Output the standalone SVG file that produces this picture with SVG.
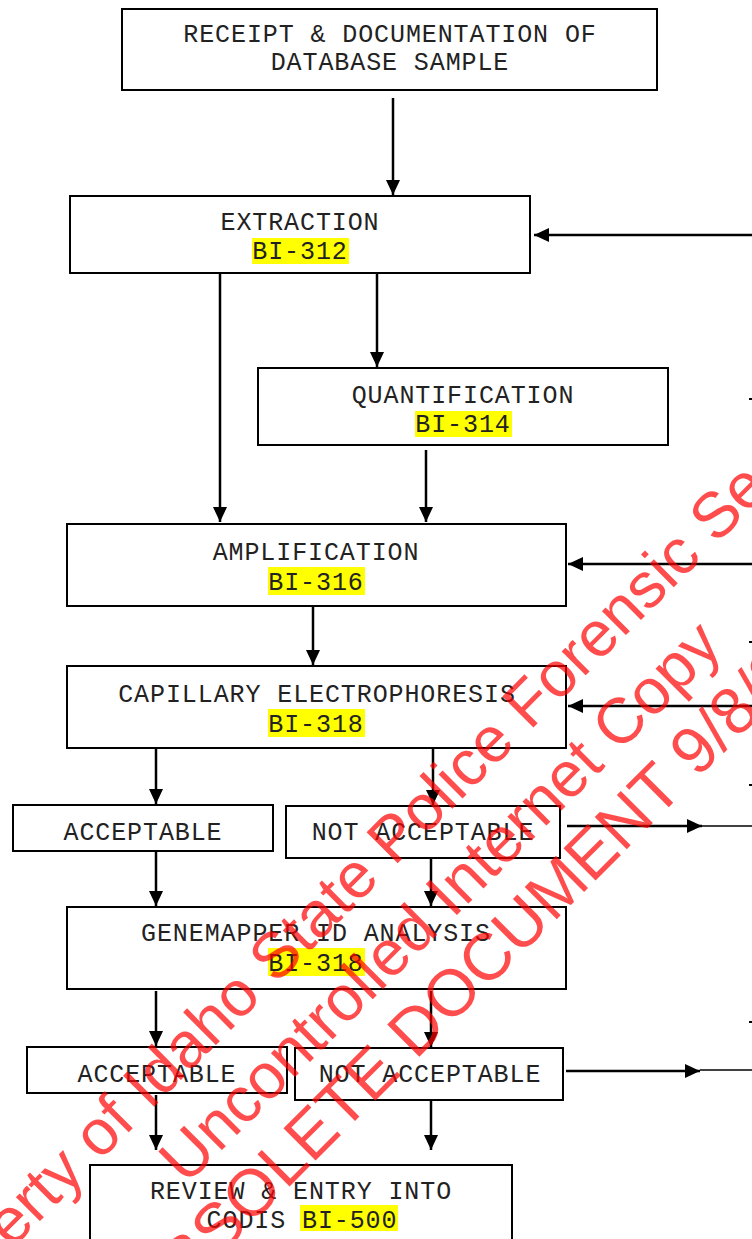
<svg xmlns="http://www.w3.org/2000/svg" width="752" height="1239" viewBox="0 0 752 1239">
<style>
.box{fill:#fff;stroke:#000;stroke-width:2}
.t{font-family:"Liberation Mono","Courier New",monospace;font-size:25px;letter-spacing:0.9px;fill:#222;text-anchor:middle}
.hl{fill:#ffff00}
.c{stroke:#000;stroke-width:2.5;fill:none}
.ca{stroke:#000;stroke-width:2.5;fill:none;marker-end:url(#ah)}
.thin{stroke:#000;stroke-width:1.5;fill:none}
.wm{font-family:"Liberation Sans",Arial,sans-serif;font-size:64px;fill:#ff0000;fill-opacity:0.7}
</style>
<defs>
<marker id="ah" markerUnits="userSpaceOnUse" markerWidth="16" markerHeight="14" refX="15" refY="7" orient="auto">
<path d="M0,0 L15,7 L0,14 z" fill="#000"/>
</marker>
</defs>
<rect width="752" height="1239" fill="#fff"/>

<g id="connectors">
<line class="ca" x1="393" y1="98" x2="393" y2="195"/>
<line class="ca" x1="220" y1="273" x2="220" y2="522"/>
<line class="ca" x1="377" y1="273" x2="377" y2="367"/>
<line class="ca" x1="426" y1="450" x2="426" y2="522"/>
<line class="ca" x1="313" y1="607" x2="313" y2="665"/>
<line class="ca" x1="156" y1="749" x2="156" y2="804"/>
<line class="ca" x1="433" y1="749" x2="433" y2="805"/>
<line class="ca" x1="156" y1="852" x2="156" y2="906"/>
<line class="ca" x1="431" y1="852" x2="431" y2="906"/>
<line class="ca" x1="156" y1="991" x2="156" y2="1046"/>
<line class="ca" x1="431" y1="991" x2="431" y2="1047"/>
<line class="ca" x1="156" y1="1095" x2="156" y2="1150"/>
<line class="ca" x1="431" y1="1096" x2="431" y2="1150"/>
<line class="ca" x1="752" y1="235" x2="534" y2="235"/>
<line class="ca" x1="752" y1="564" x2="568" y2="564"/>
<line class="ca" x1="752" y1="706" x2="568" y2="706"/>
<line class="ca" x1="567" y1="826" x2="702" y2="826"/>
<line class="thin" x1="702" y1="826" x2="752" y2="826"/>
<line class="ca" x1="566" y1="1071" x2="700" y2="1071"/>
<line class="thin" x1="700" y1="1070" x2="752" y2="1070"/>
</g>

<g id="receipt">
<rect class="box" x="122" y="9" width="535" height="81"/>
<text class="t" x="390" y="42">RECEIPT &amp; DOCUMENTATION OF</text>
<text class="t" x="390" y="70">DATABASE SAMPLE</text>
</g>

<g id="extraction">
<rect class="box" x="70" y="196" width="460" height="77"/>
<text class="t" x="300" y="230">EXTRACTION</text>
<rect class="hl" x="252" y="238" width="97" height="26"/>
<text class="t" x="300" y="259">BI-312</text>
</g>

<g id="quantification">
<rect class="box" x="258" y="368" width="410" height="77"/>
<text class="t" x="463" y="403">QUANTIFICATION</text>
<rect class="hl" x="415" y="411" width="97" height="26"/>
<text class="t" x="463" y="432">BI-314</text>
</g>

<g id="amplification">
<rect class="box" x="67" y="524" width="499" height="82"/>
<text class="t" x="316" y="560">AMPLIFICATION</text>
<rect class="hl" x="268" y="567" width="97" height="28"/>
<text class="t" x="316" y="590">BI-316</text>
</g>

<g id="capillary">
<rect class="box" x="67" y="666" width="499" height="82"/>
<text class="t" x="317" y="702">CAPILLARY ELECTROPHORESIS</text>
<rect class="hl" x="268" y="709" width="97" height="28"/>
<text class="t" x="316" y="732">BI-318</text>
</g>

<g id="acceptable1">
<rect class="box" x="13" y="805" width="260" height="46"/>
<text class="t" x="143" y="840">ACCEPTABLE</text>
</g>

<g id="notacceptable1">
<rect class="box" x="286" y="806" width="274" height="52"/>
<text class="t" x="423" y="840">NOT ACCEPTABLE</text>
</g>

<g id="genemapper">
<rect class="box" x="67" y="907" width="499" height="82"/>
<text class="t" x="316" y="941">GENEMAPPER ID ANALYSIS</text>
<rect class="hl" x="268" y="948" width="97" height="28"/>
<text class="t" x="316" y="971">BI-318</text>
</g>

<g id="acceptable2">
<rect class="box" x="27" y="1047" width="260" height="46"/>
<text class="t" x="157" y="1082">ACCEPTABLE</text>
</g>

<g id="notacceptable2">
<rect class="box" x="295" y="1048" width="268" height="52"/>
<text class="t" x="430" y="1082">NOT ACCEPTABLE</text>
</g>

<g id="review">
<rect class="box" x="90" y="1165" width="422" height="90"/>
<text class="t" x="301" y="1199">REVIEW &amp; ENTRY INTO</text>
<rect class="hl" x="300" y="1205" width="98" height="26"/>
<text class="t" x="302" y="1228">CODIS BI-500</text>
</g>

<g id="edge-marks" fill="#000">
<rect x="749" y="398" width="3" height="2"/>
<rect x="749" y="641" width="3" height="2"/>
<rect x="749" y="784" width="3" height="2"/>
<rect x="749" y="1021" width="3" height="2"/>
</g>

<g id="watermark">
<text class="wm" transform="translate(-84,1345) rotate(-45)">Property of Idaho State Police Forensic Se</text>
<text class="wm" transform="translate(186,1186) rotate(-45)">Uncontrolled Internet Copy</text>
<text class="wm" style="font-size:66px" transform="translate(151,1325) rotate(-45)">OBSOLETE DOCUMENT 9/8/2</text>
</g>
</svg>
